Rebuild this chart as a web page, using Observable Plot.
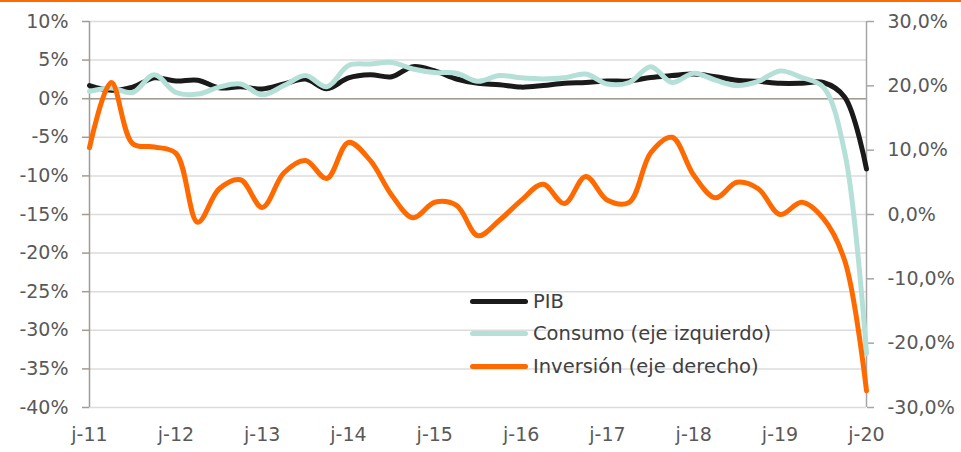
<!DOCTYPE html>
<html>
<head>
<meta charset="utf-8">
<script src="https://cdn.jsdelivr.net/npm/d3@7"></script>
<script src="https://cdn.jsdelivr.net/npm/@observablehq/plot@0.6"></script>
<style>
  html, body { margin: 0; padding: 0; background: #fff; }
  #wrap { position: relative; width: 961px; height: 452px; overflow: hidden; }
  #topline { position: absolute; left: 0; top: 0; width: 961px; height: 2px; background: #ff6a00; }
  #legend { position: absolute; left: 470px; top: 285px; font-family: "DejaVu Sans", sans-serif; font-size: 19.5px; color: #404040; }
  .item { display: flex; align-items: center; height: 32.5px; }
  .sw { width: 58px; height: 5px; border-radius: 2.5px; margin-right: 5px; }
</style>
</head>
<body>
<div id="wrap">
  <div id="chart"></div>
  <div id="topline"></div>
  <div id="legend"></div>
</div>
<script>
// Quarterly observations (jun-11 .. jun-20)
const quarters = [
  "2011-06","2011-09","2011-12","2012-03","2012-06","2012-09","2012-12","2013-03",
  "2013-06","2013-09","2013-12","2014-03","2014-06","2014-09","2014-12","2015-03",
  "2015-06","2015-09","2015-12","2016-03","2016-06","2016-09","2016-12","2017-03",
  "2017-06","2017-09","2017-12","2018-03","2018-06","2018-09","2018-12","2019-03",
  "2019-06","2019-09","2019-12","2020-03","2020-06"
];
// PIB (left axis, %)
const pib = [1.7, 1.1, 1.5, 2.7, 2.3, 2.4, 1.4, 1.55, 1.25, 1.9, 2.55, 1.3, 2.7, 3.1, 2.85, 4.15,
  3.6, 2.55, 2.0, 1.8, 1.5, 1.7, 2.0, 2.1, 2.3, 2.3, 2.75, 3.0, 3.2, 2.85, 2.4, 2.25, 2.0, 2.0, 2.1, 0.2, -9.1];
// Consumo (left axis, %)
const consumo = [0.95, 1.4, 0.8, 3.1, 0.8, 0.6, 1.5, 1.9, 0.5, 1.7, 3.0, 1.55, 4.3, 4.5, 4.7, 3.85,
  3.4, 3.3, 2.25, 3.0, 2.7, 2.55, 2.7, 3.2, 1.9, 2.1, 4.15, 2.1, 3.3, 2.4, 1.7, 2.25, 3.6, 2.75, 1.5, -7, -33];
// Inversión (right axis, %)
const inversion = [10.4, 20.5, 11, 10.5, 9.5, -1.2, 4.0, 5.4, 1.1, 6.5, 8.4, 5.6, 11.2, 8.4, 3.0, -0.5,
  1.9, 1.4, -3.3, -0.9, 2.2, 4.7, 1.7, 5.9, 2.2, 1.9, 9.6, 12.0, 6.1, 2.6, 5.0, 4.0, 0, 1.9, -0.6, -7.2, -27.4];

const leftTicks = [10, 5, 0, -5, -10, -15, -20, -25, -30, -35, -40];
const rightTicks = [30, 20, 10, 0, -10, -20, -30];
const yearTicks = ["2011-06","2012-06","2013-06","2014-06","2015-06","2016-06","2017-06","2018-06","2019-06","2020-06"];
const xLabels = ["j-11","j-12","j-13","j-14","j-15","j-16","j-17","j-18","j-19","j-20"];

const seriesNames = ["PIB", "Consumo (eje izquierdo)", "Inversión (eje derecho)"];
const colors = ["#1a1a1a", "#b5e0d8", "#ff6a00"];

const leftDomain = [-40, 10];
const rightDomain = [-30, 30];
const toLeft = r => leftDomain[0] + (r - rightDomain[0]) * (leftDomain[1] - leftDomain[0]) / (rightDomain[1] - rightDomain[0]);
const fromLeft = l => rightDomain[0] + (l - leftDomain[0]) * (rightDomain[1] - rightDomain[0]) / (leftDomain[1] - leftDomain[0]);

const parse = d3.utcParse("%Y-%m");
const rows = quarters.map((q, i) => ({date: parse(q), pib: pib[i], consumo: consumo[i], inv: inversion[i]}));
const xTicks = yearTicks.map(parse);
const labelMap = new Map(xTicks.map((d, i) => [+d, xLabels[i]]));
const x0 = parse(quarters[0]), x1 = parse(quarters[quarters.length - 1]);

const axisColor = "#a39a92";

const chart = Plot.plot({
  width: 961,
  height: 452,
  marginLeft: 89,
  marginRight: 95,
  marginTop: 21,
  marginBottom: 45,
  x: {type: "utc", domain: [x0, x1]},
  y: {domain: leftDomain},
  style: {fontFamily: "DejaVu Sans, sans-serif", fontSize: "19px", color: "#595959", background: "white", overflow: "visible"},
  marks: [
    Plot.gridY(leftTicks, {stroke: "#dcdcdc", strokeOpacity: 1, strokeWidth: 1.5}),
    Plot.ruleY([0], {stroke: axisColor, strokeWidth: 1.5}),
    Plot.ruleX([x0], {y1: leftDomain[0], y2: leftDomain[1], stroke: axisColor, strokeWidth: 1.5}),
    Plot.ruleX([x1], {y1: leftDomain[0], y2: leftDomain[1], stroke: "#a6a6a6", strokeWidth: 1.5}),
    Plot.axisY(leftTicks, {anchor: "left", tickSize: 7, tickPadding: 14, stroke: axisColor, strokeWidth: 1.5,
      tickFormat: d => d + "%", label: null}),
    Plot.axisY(rightTicks.map(toLeft), {anchor: "right", tickSize: 7, tickPadding: 14, stroke: "#a6a6a6", strokeWidth: 1.5,
      tickFormat: d => Math.round(fromLeft(d)).toFixed(1).replace(".", ",") + "%", label: null}),
    Plot.axisX(xTicks, {anchor: "bottom", tickSize: 0, tickPadding: 20, tickFormat: d => labelMap.get(+d), label: null}),
    Plot.line(rows, {x: "date", y: "pib", stroke: colors[0], strokeWidth: 5, curve: "catmull-rom"}),
    Plot.line(rows, {x: "date", y: "consumo", stroke: colors[1], strokeWidth: 5, curve: "catmull-rom"}),
    Plot.line(rows, {x: "date", y: d => toLeft(d.inv), stroke: colors[2], strokeWidth: 5, curve: "catmull-rom"})
  ]
});
document.getElementById("chart").appendChild(chart);

const legend = document.getElementById("legend");
seriesNames.forEach((name, i) => {
  const item = document.createElement("div");
  item.className = "item";
  const sw = document.createElement("span");
  sw.className = "sw";
  sw.style.background = colors[i];
  const tx = document.createElement("span");
  tx.textContent = name;
  item.appendChild(sw);
  item.appendChild(tx);
  legend.appendChild(item);
});
</script>
</body>
</html>
